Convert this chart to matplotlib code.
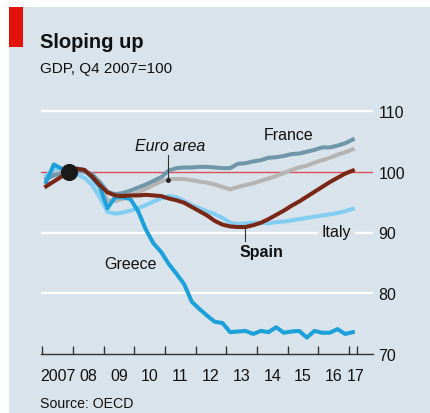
import matplotlib
matplotlib.use("Agg")
import matplotlib.pyplot as plt
from matplotlib.patches import Rectangle

plt.rcParams['font.family'] = ['Liberation Sans Narrow', 'Liberation Sans', 'DejaVu Sans']

# ---------------- data (quarterly, 2007Q1 .. 2017Q1) ----------------
start_year = 2007
greece = [98.3, 101.2, 100.5, 100.0, 100.5, 100.3, 99.0, 97.5, 94.0, 95.8,
          95.8, 95.5, 93.5, 90.5, 88.2, 86.8, 84.8, 83.2, 81.5, 78.6,
          77.4, 76.3, 75.3, 75.1, 73.6, 73.7, 73.8, 73.3, 73.8, 73.6,
          74.4, 73.5, 73.7, 73.8, 72.7, 73.8, 73.5, 73.5, 74.1, 73.3, 73.6]
italy = [99.3, 100.4, 100.6, 100.0, 99.6, 99.0, 97.8, 95.8, 93.4, 93.1,
         93.3, 93.6, 94.0, 94.5, 95.1, 95.6, 96.0, 95.8, 95.2, 94.5,
         94.0, 93.5, 93.0, 92.4, 91.6, 91.4, 91.5, 91.6, 91.6, 91.5,
         91.7, 91.8, 92.0, 92.2, 92.4, 92.6, 92.8, 93.0, 93.2, 93.5, 93.9]
spain = [97.6, 98.4, 99.2, 100.0, 100.5, 100.3, 99.2, 97.8, 96.6, 96.1,
         96.0, 96.1, 96.1, 96.2, 96.1, 96.0, 95.6, 95.3, 94.9, 94.2,
         93.5, 92.8, 91.9, 91.3, 91.0, 90.9, 90.9, 91.2, 91.6, 92.2,
         92.9, 93.6, 94.4, 95.1, 95.9, 96.7, 97.5, 98.3, 99.0, 99.7, 100.2]
france = [98.8, 99.4, 99.7, 100.0, 100.3, 100.0, 99.6, 98.3, 96.7, 96.3,
          96.5, 96.9, 97.4, 97.9, 98.5, 99.1, 100.2, 100.6, 100.7, 100.7,
          100.8, 100.8, 100.7, 100.6, 100.6, 101.3, 101.4, 101.7, 101.9, 102.3,
          102.4, 102.6, 102.9, 103.0, 103.3, 103.6, 104.0, 104.0, 104.3, 104.7, 105.3]
euro_area = [99.2, 99.6, 99.9, 100.0, 100.4, 100.1, 99.5, 97.7, 95.3, 95.2,
             95.5, 96.1, 96.6, 97.2, 97.8, 98.4, 98.8, 98.8, 98.8, 98.6,
             98.4, 98.2, 97.9, 97.5, 97.1, 97.5, 97.8, 98.1, 98.5, 98.9,
             99.3, 99.8, 100.3, 100.7, 101.0, 101.5, 101.9, 102.3, 102.8, 103.2, 103.7]
year_labels = ["2007", "08", "09", "10", "11", "12", "13", "14", "15", "16", "17"]
y_ticks = [70, 80, 90, 100, 110]

n = len(greece)
xq = [start_year + (i + 0.5) / 4 for i in range(n)]

# ---------------- figure ----------------
W, H = 430, 414
DPI = 100
fig = plt.figure(figsize=(W / DPI, H / DPI), dpi=DPI)
fig.patch.set_facecolor('white')
BG = '#d8e3eb'
fig.patches.append(Rectangle((9 / W, 0), 1 - 9 / W, 1 - 8 / H, transform=fig.transFigure,
                             facecolor=BG, edgecolor='none', zorder=-2))
fig.patches.append(Rectangle((9 / W, 1 - 48 / H), 13.7 / W, 40 / H, transform=fig.transFigure,
                             facecolor='#e3120b', edgecolor='none', zorder=-1))

def px(x, y):
    return x / W, 1 - y / H

TXT = '#111111'
fig.text(*px(40, 42), "Sloping up", fontsize=14.5, fontweight='bold', color=TXT,
         va='center', ha='left')
fig.text(*px(40, 69.5), "GDP, Q4 2007=100", fontsize=11, color=TXT, va='center', ha='left')
fig.text(*px(40, 404), "Source: OECD", fontsize=10.2, color=TXT, va='center', ha='left')

# axes: x pixel 41..373, y value 70 at 355 px, 6.075 px per unit
ppy = 30.67
x0 = 2007 - 1.3 / ppy
x1 = 2007 + (373 - 42.3) / ppy
ax_bottom = 355
ax_top = 355 - 42 * 6.075
ax = fig.add_axes([41 / W, 1 - ax_bottom / H, 332 / W, (ax_bottom - ax_top) / H])
ax.set_zorder(2)
ax.set_facecolor('none')
ax.set_xlim(x0, x1)
ax.set_ylim(70, 112)
for s in ['top', 'left', 'right']:
    ax.spines[s].set_visible(False)
ax.spines['bottom'].set_color('#333333')
ax.spines['bottom'].set_linewidth(1.0)

for v in [80, 90, 110]:
    ax.axhline(v, color='white', lw=1.6, zorder=1)
ax.axhline(100, color='#d9505c', lw=1.0, zorder=2)

lw = 2.9
ax.plot(xq, euro_area, color='#b4b4b4', lw=lw, zorder=3, solid_joinstyle='round')
ax.plot(xq, france, color='#6f95a9', lw=lw, zorder=4, solid_joinstyle='round')
ax.plot(xq, italy, color='#82cdf1', lw=lw, zorder=5, solid_joinstyle='round')
ax.plot(xq, greece, color='#1ba0d9', lw=lw, zorder=6, solid_joinstyle='round')
ax.plot(xq, spain, color='#7a2614', lw=lw, zorder=7, solid_joinstyle='round')
ax.plot([xq[3]], [spain[3]], 'o', color='#1a1a1a', ms=11.3, zorder=8)

# ticks
ax.set_xticks([start_year + i for i in range(11)] + [2017.25])
ax.tick_params(axis='x', direction='in', length=6, width=1, color='#333333',
               labelbottom=False)
for i, lab in enumerate(year_labels):
    xc = start_year + i + 0.5 if i < 10 else 2017.2
    ax.text(xc, 70 - (376.7 - 355) / 6.075, lab, ha='center', va='center',
            fontsize=11.5, color=TXT, clip_on=False)
ax.set_yticks(y_ticks)
ax.yaxis.tick_right()
ax.tick_params(axis='y', length=0, pad=4, labelsize=11.5, labelcolor=TXT)

# annotations
ax.text(2011.16, 104.3, "Euro area", style='italic', fontsize=11.5, color=TXT,
        ha='center', va='center', zorder=9)
ax.plot([2011.11, 2011.11], [102.76, 98.64], color='#333333', lw=0.8, zorder=9)
ax.plot([2011.11], [98.64], 'o', color='#222222', ms=2.5, zorder=9)
ax.text(2015.04, 106.05, "France", fontsize=11.5, color=TXT, ha='center', va='center', zorder=9)
ax.text(2016.6, 90.2, "Italy", fontsize=11.5, color=TXT, ha='center', va='center', zorder=9,
        bbox=dict(boxstyle='square,pad=0.25', facecolor=BG, edgecolor='none'))
ax.text(2014.14, 86.9, "Spain", fontsize=11.5, fontweight='bold', color=TXT,
        ha='center', va='center', zorder=9)
ax.plot([2013.61, 2013.61], [90.9, 88.65], color='#333333', lw=0.8, zorder=9)
ax.text(2009.88, 84.93, "Greece", fontsize=11.5, color=TXT, ha='center', va='center', zorder=9)

fig.savefig("out.png", dpi=DPI, facecolor=fig.get_facecolor())
